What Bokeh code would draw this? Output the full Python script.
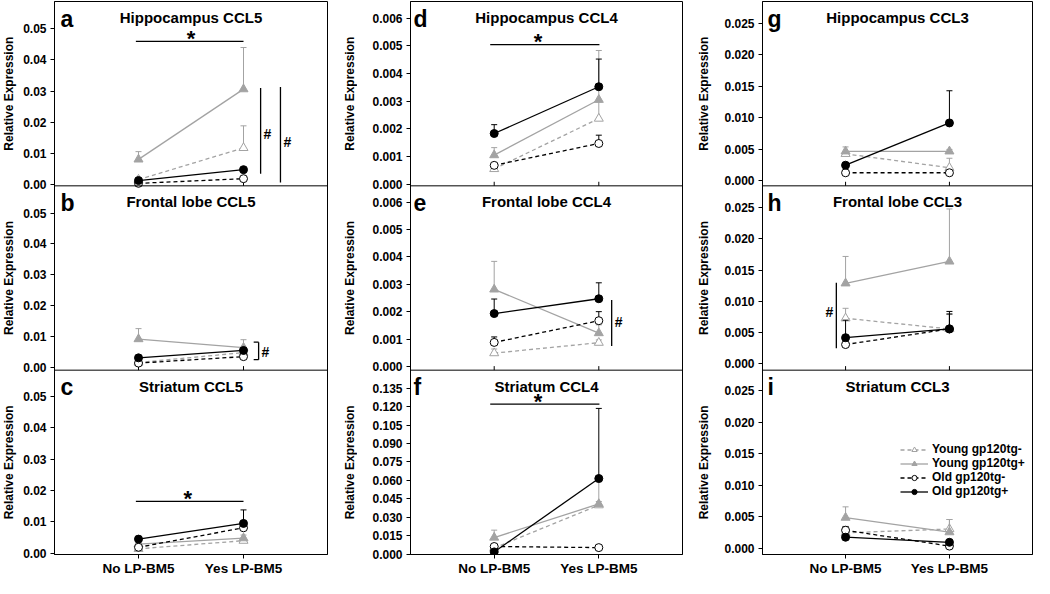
import math
from bokeh.plotting import figure
from bokeh.models import (Range1d, FixedTicker, CustomJSTickFormatter, Span, Label,
                          Legend, LegendItem)
from bokeh.layouts import row
from bokeh.embed import file_html
from bokeh.resources import INLINE

# ---------------- data ----------------
groups = ["No LP-BM5", "Yes LP-BM5"]
group_x = [1, 2]
series = ["Young gp120tg-", "Young gp120tg+", "Old gp120tg-", "Old gp120tg+"]

# mean (No, Yes) for each series, and upper error (SEM)
hip_ccl5_mean = [[0.0015, 0.0117], [0.0080, 0.0306], [0.0003, 0.0018], [0.0012, 0.0047]]
hip_ccl5_err = [[0.0005, 0.0071], [0.0025, 0.0134], [0.0002, 0.0003], [0.0003, 0.0005]]
fro_ccl5_mean = [[0.0015, 0.0047], [0.0091, 0.0063], [0.0013, 0.0034], [0.0030, 0.0054]]
fro_ccl5_err = [[0.0005, 0.0015], [0.0034, 0.0026], [0.0003, 0.0005], [0.0004, 0.0008]]
str_ccl5_mean = [[0.0014, 0.0040], [0.0029, 0.0048], [0.0019, 0.0081], [0.0045, 0.0095]]
str_ccl5_err = [[0.0003, 0.0008], [0.0005, 0.0010], [0.0004, 0.0020], [0.0004, 0.0043]]

hip_ccl4_mean = [[0.00055, 0.00237], [0.00105, 0.00305], [0.00068, 0.00147], [0.00183, 0.00352]]
hip_ccl4_err = [[0.00010, 0.00060], [0.00027, 0.00178], [0.00005, 0.00030], [0.00032, 0.00100]]
fro_ccl4_mean = [[0.00050, 0.00088], [0.00282, 0.00123], [0.00089, 0.00168], [0.00194, 0.00248]]
fro_ccl4_err = [[0.00015, 0.00010], [0.00102, 0.00030], [0.00020, 0.00033], [0.00053, 0.00058]]
str_ccl4_mean = [[0.0050, 0.0398], [0.0135, 0.0408], [0.0062, 0.0053], [0.0018, 0.0615]]
str_ccl4_err = [[0.0020, 0.0030], [0.0060, 0.0180], [0.0010, 0.0010], [0.0005, 0.0570]]

hip_ccl3_mean = [[0.0043, 0.0021], [0.0047, 0.0047], [0.0013, 0.0013], [0.0025, 0.0092]]
hip_ccl3_err = [[0.0003, 0.0015], [0.0007, 0.0003], [0.0002, 0.0002], [0.0004, 0.0051]]
fro_ccl3_mean = [[0.0073, 0.0056], [0.0129, 0.0164], [0.0031, 0.0056], [0.0042, 0.0056]]
fro_ccl3_err = [[0.0016, 0.0023], [0.0043, 0.0084], [0.0004, 0.0024], [0.0028, 0.0028]]
str_ccl3_mean = [[0.0025, 0.0031], [0.0049, 0.0026], [0.0029, 0.0004], [0.0018, 0.0010]]
str_ccl3_err = [[0.0005, 0.0015], [0.0017, 0.0020], [0.0006, 0.0002], [0.0003, 0.0002]]

ticks_ccl5 = [0.00, 0.01, 0.02, 0.03, 0.04, 0.05]
ticks_ccl4 = [0.000, 0.001, 0.002, 0.003, 0.004, 0.005, 0.006]
ticks_str_ccl4 = [0.000, 0.015, 0.030, 0.045, 0.060, 0.075, 0.090, 0.105, 0.120, 0.135]
ticks_ccl3 = [0.000, 0.005, 0.010, 0.015, 0.020, 0.025]

y_title = "Relative Expression"

# significance marks: star bars (x0, x1, y, x_star) and '#' bars (x, y0, y1, y_label, side)
star_bars = {
    "a": (0.975, 2.0, 0.046, 1.50),
    "c": (0.975, 2.0, 0.0165, 1.47),
    "d": (0.962, 2.006, 0.00504, 1.42),
    "f": (0.962, 2.006, 0.122, 1.42),
}
hash_bars = {
    "a": [(2.163, 0.0034, 0.0310, 0.0163, "right"), (2.352, 0.0006, 0.0313, 0.0135, "right")],
    "b": [(2.144, 0.0024, 0.0081, 0.0050, "bracket")],
    "e": [(2.123, 0.00076, 0.00243, 0.00165, "right")],
    "h": [(0.911, 0.0025, 0.0130, 0.00825, "left")],
}

# ---------------- panels ----------------
panels = [
    dict(letter="a", title="Hippocampus CCL5", col=0, row=0, mean=hip_ccl5_mean, err=hip_ccl5_err,
         rng=(-0.0005, 0.0588), ticks=ticks_ccl5, fmt="{:.2f}"),
    dict(letter="b", title="Frontal lobe CCL5", col=0, row=1, mean=fro_ccl5_mean, err=fro_ccl5_err,
         rng=(-0.0010, 0.0589), ticks=ticks_ccl5, fmt="{:.2f}"),
    dict(letter="c", title="Striatum CCL5", col=0, row=2, mean=str_ccl5_mean, err=str_ccl5_err,
         rng=(-0.0004, 0.0583), ticks=ticks_ccl5, fmt="{:.2f}"),
    dict(letter="d", title="Hippocampus CCL4", col=1, row=0, mean=hip_ccl4_mean, err=hip_ccl4_err,
         rng=(-0.00006, 0.0066), ticks=ticks_ccl4, fmt="{:.3f}"),
    dict(letter="e", title="Frontal lobe CCL4", col=1, row=1, mean=fro_ccl4_mean, err=fro_ccl4_err,
         rng=(-0.00012, 0.00659), ticks=ticks_ccl4, fmt="{:.3f}"),
    dict(letter="f", title="Striatum CCL4", col=1, row=2, mean=str_ccl4_mean, err=str_ccl4_err,
         rng=(-0.0003, 0.1496), ticks=ticks_str_ccl4, fmt="{:.3f}"),
    dict(letter="g", title="Hippocampus CCL3", col=2, row=0, mean=hip_ccl3_mean, err=hip_ccl3_err,
         rng=(-0.00077, 0.02845), ticks=ticks_ccl3, fmt="{:.3f}"),
    dict(letter="h", title="Frontal lobe CCL3", col=2, row=1, mean=fro_ccl3_mean, err=fro_ccl3_err,
         rng=(-0.0010, 0.0285), ticks=ticks_ccl3, fmt="{:.3f}"),
    dict(letter="i", title="Striatum CCL3", col=2, row=2, mean=str_ccl3_mean, err=str_ccl3_err,
         rng=(-0.00093, 0.0282), ticks=ticks_ccl3, fmt="{:.3f}"),
]

# ---------------- styling ----------------
FONT = "Liberation Sans"
GRAY = "#a3a3a3"
styles = [
    dict(color=GRAY, dash="4 3", marker="triangle", fill="white", size=9),
    dict(color=GRAY, dash="solid", marker="triangle", fill=GRAY, size=9),
    dict(color="black", dash="4 3", marker="circle", fill="white", size=8),
    dict(color="black", dash="solid", marker="circle", fill="black", size=8),
]
TITLE_W = [20, 25, 30]
TITLE_X = [0.4, 0.7, 0.58]
FRAME_W = [273, 272, 270]
BORDER_L = [34, 53, 46]
BORDER_R = [5, 4, 2]
LETTER_OFF = [6, 3, 5]
H = 578
B_TOP = 1
B_BOT = 24


def label(**kw):
    base = dict(text_font=FONT, text_font_style="bold", text_color="black")
    base.update(kw)
    return Label(**base)


children = []
legend_items = []
for c in range(3):
    # narrow figure that carries the three rotated y-axis titles
    t = figure(width=TITLE_W[c], height=H, x_range=Range1d(0, 1), y_range=Range1d(0, 3),
               output_backend="svg", toolbar_location=None, tools="",
               min_border_left=0, min_border_right=0, min_border_top=B_TOP,
               min_border_bottom=B_BOT, x_axis_type=None, y_axis_type=None)
    t.grid.visible = False
    t.outline_line_color = None
    for k in range(3):
        t.add_layout(label(x=TITLE_X[c], y=2.5 - k, text=y_title, angle=math.pi / 2,
                           text_align="center", text_baseline="middle", text_font_size="12px"))
    children.append(t)

    p = figure(width=BORDER_L[c] + FRAME_W[c] + BORDER_R[c], height=H,
               x_range=Range1d(0.2, 2.8), y_range=Range1d(0, 3),
               output_backend="svg", toolbar_location=None, tools="",
               min_border_left=BORDER_L[c], min_border_right=BORDER_R[c],
               min_border_top=B_TOP, min_border_bottom=B_BOT)
    p.grid.visible = False
    p.outline_line_color = "black"
    p.outline_line_width = 1
    p.background_fill_color = "white"
    p.border_fill_color = "white"

    col_panels = [q for q in panels if q["col"] == c]
    pos_list, lab_list = [], []
    for q in col_panels:
        k = q["row"]
        lo, hi = q["rng"]
        span = hi - lo
        p.extra_y_ranges[q["letter"]] = Range1d(lo - (2 - k) * span, lo + (1 + k) * span)
        for v in q["ticks"]:
            pos_list.append((2 - k) + (v - lo) / span)
            lab_list.append(q["fmt"].format(v))
    order = sorted(range(len(pos_list)), key=lambda i: pos_list[i])
    pos_list = [pos_list[i] for i in order]
    lab_list = [lab_list[i] for i in order]

    ya = p.yaxis[0]
    ya.ticker = FixedTicker(ticks=pos_list, minor_ticks=[])
    ya.formatter = CustomJSTickFormatter(
        args=dict(pos=pos_list, labels=lab_list),
        code="""
        let best = 0, bd = 1e9;
        for (let i = 0; i < pos.length; i++) {
          const d = Math.abs(pos[i] - tick);
          if (d < bd) { bd = d; best = i; }
        }
        return labels[best];
        """)
    ya.axis_label = None
    ya.major_tick_out = 4
    ya.major_tick_in = 0
    ya.minor_tick_out = 0
    ya.minor_tick_in = 0
    ya.major_label_standoff = 4
    ya.major_label_text_font = FONT
    ya.major_label_text_font_style = "bold"
    ya.major_label_text_font_size = "12px"
    ya.major_label_text_color = "black"
    ya.axis_line_color = "black"

    xa = p.xaxis[0]
    xa.ticker = FixedTicker(ticks=group_x, minor_ticks=[])
    xa.major_label_overrides = {group_x[0]: groups[0], group_x[1]: groups[1]}
    xa.axis_label = None
    xa.major_tick_out = 4
    xa.major_tick_in = 0
    xa.minor_tick_out = 0
    xa.minor_tick_in = 0
    xa.major_label_standoff = 2
    xa.major_label_text_font = FONT
    xa.major_label_text_font_style = "bold"
    xa.major_label_text_font_size = "13.5px"
    xa.major_label_text_color = "black"
    xa.axis_line_color = "black"

    for b in (1, 2):
        p.add_layout(Span(location=b, dimension="width", line_color="black", line_width=1))
        p.segment(x0=group_x, y0=[b, b], x1=group_x, y1=[b + 0.022, b + 0.022],
                  line_color="black", line_width=1)

    for q in col_panels:
        k = q["row"]
        name = q["letter"]
        rends = []
        for s in range(4):
            st = styles[s]
            m = q["mean"][s]
            e = q["err"][s]
            tops = [m[i] + e[i] for i in range(2)]
            p.segment(x0=group_x, y0=m, x1=group_x, y1=tops, line_color=st["color"],
                      line_width=1, y_range_name=name)
            p.scatter(x=group_x, y=tops, marker="dash", size=6, line_color=st["color"],
                      line_width=1, y_range_name=name)
            lr = p.line(x=group_x, y=m, line_color=st["color"], line_dash=st["dash"],
                        line_width=1.3, y_range_name=name)
            sr = p.scatter(x=group_x, y=m, marker=st["marker"], size=st["size"],
                           line_color=st["color"], fill_color=st["fill"], line_width=1,
                           y_range_name=name)
            rends.append((lr, sr))
        if name == "i":
            for s in range(4):
                legend_items.append(LegendItem(label=series[s], renderers=list(rends[s])))

        p.add_layout(label(x=1.5, y=3 - k, y_offset=-16, text=q["title"], text_align="center",
                           text_baseline="middle", text_font_size="15px"))
        p.add_layout(label(x=0.2, y=3 - k, x_offset=LETTER_OFF[c], y_offset=-17, text=name,
                           text_align="left", text_baseline="middle", text_font_size="23px"))

        if name in star_bars:
            x0, x1, yv, xs = star_bars[name]
            p.segment(x0=[x0], y0=[yv], x1=[x1], y1=[yv], line_color="black", line_width=1.3,
                      y_range_name=name)
            p.add_layout(label(x=xs, y=yv, y_range_name=name, y_offset=3, text="*",
                               text_align="center", text_baseline="middle",
                               text_font_size="22px"))
        if name in hash_bars:
            for (xv, y0, y1, yl, side) in hash_bars[name]:
                p.segment(x0=[xv], y0=[y0], x1=[xv], y1=[y1], line_color="black",
                          line_width=1.3, y_range_name=name)
                if side == "bracket":
                    arm = 0.047
                    p.segment(x0=[xv - arm, xv - arm], y0=[y0, y1], x1=[xv, xv], y1=[y0, y1],
                              line_color="black", line_width=1.3, y_range_name=name)
                if side == "left":
                    p.add_layout(label(x=xv, y=yl, y_range_name=name, x_offset=-3, text="#",
                                       text_align="right", text_baseline="middle",
                                       text_font_size="14px"))
                else:
                    p.add_layout(label(x=xv, y=yl, y_range_name=name, x_offset=3, text="#",
                                       text_align="left", text_baseline="middle",
                                       text_font_size="14px"))

    if c == 2:
        leg = Legend(items=legend_items, location=(138, 56), orientation="vertical",
                     glyph_width=28, glyph_height=13, label_height=13, label_width=98,
                     spacing=0, padding=0, margin=0, label_standoff=4, border_line_color=None,
                     background_fill_alpha=0, label_text_font=FONT,
                     label_text_font_style="bold", label_text_font_size="12px",
                     label_text_color="black")
        p.add_layout(leg)
    children.append(p)

layout = row(*children)
open("out.html", "w").write(file_html(layout, INLINE))
